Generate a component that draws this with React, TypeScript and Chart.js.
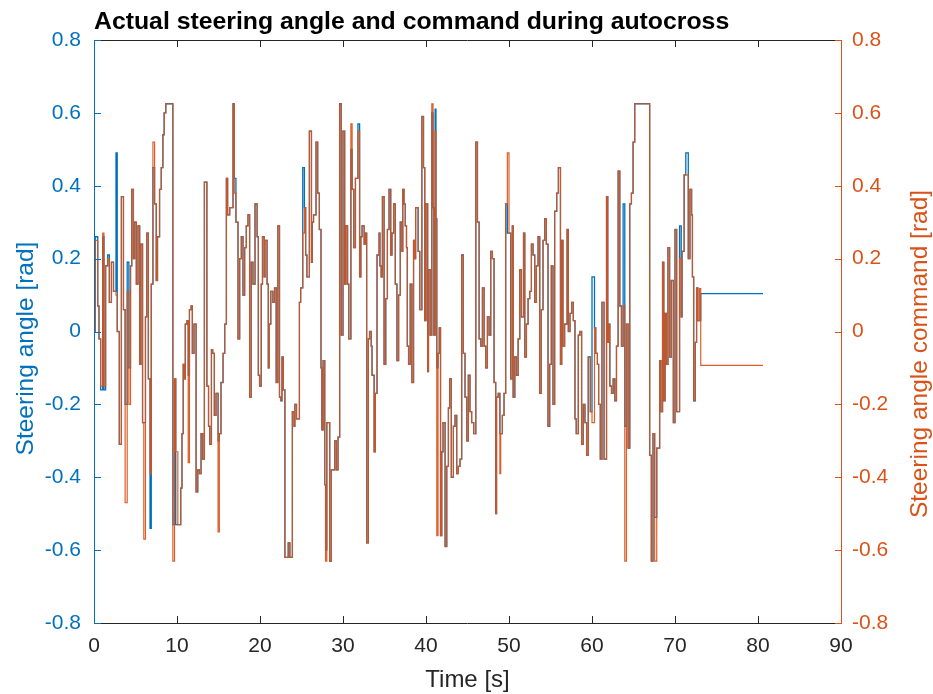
import React, { useEffect, useRef } from "react";
import { Chart, registerables } from "chart.js";

Chart.register(...registerables);

const BLUE = "#0072BD";
const ORANGE = "#D95319";
const ORANGE_LINE = "rgba(217,83,25,0.93)";
const DARK = "#262626";
const FONT = '"Liberation Sans", Arial, Helvetica, sans-serif';

const titleText = "Actual steering angle and command during autocross";
const xTitle = "Time [s]";
const yLeftTitle = "Steering angle [rad]";
const yRightTitle = "Steering angle command [rad]";

const xTicks = [0, 10, 20, 30, 40, 50, 60, 70, 80, 90];
const yTicks = [-0.8, -0.6, -0.4, -0.2, 0, 0.2, 0.4, 0.6, 0.8];

// time of each step change [s]
const time = [
  0, 0.15, 0.45, 0.6, 0.8, 1.05, 1.2, 1.4, 1.65, 1.85,
  2.1, 2.35, 2.65, 2.8, 3.05, 3.3, 3.55, 3.75, 4.0, 4.2,
  4.4, 4.55, 4.75, 4.9, 5.1, 5.3, 5.5, 5.65, 5.85, 6.0,
  6.2, 6.35, 6.55, 6.75, 6.9, 7.1, 7.3, 7.5, 7.65, 7.9,
  8.1, 8.3, 8.45, 8.65, 9.5, 9.7, 9.85, 10.1, 10.45, 10.6,
  10.75, 10.9, 11.0, 11.2, 11.35, 11.5, 11.7, 11.85, 12.05, 12.3,
  12.5, 12.7, 12.9, 13.1, 13.3, 13.6, 13.8, 13.95, 14.15, 14.3,
  14.5, 14.7, 14.95, 15.1, 15.3, 15.55, 15.75, 15.95, 16.1, 16.35,
  16.75, 16.9, 17.1, 17.35, 17.55, 17.75, 17.95, 18.15, 18.35, 18.55,
  18.75, 18.95, 19.15, 19.4, 19.65, 19.8, 19.95, 20.15, 20.3, 20.5,
  20.6, 20.85, 21.0, 21.1, 21.3, 21.55, 21.75, 21.95, 22.15, 22.35,
  22.5, 22.65, 22.8, 23.0, 23.4, 23.6, 23.9, 24.1, 24.2, 24.4,
  24.75, 24.9, 25.15, 25.35, 25.5, 25.65, 25.95, 26.2, 26.3, 26.45,
  26.75, 26.95, 27.15, 27.35, 27.45, 27.6, 27.8, 27.9, 28.05, 28.4,
  28.6, 29.0, 29.2, 29.4, 29.6, 29.8, 30.0, 30.2, 30.35, 30.55,
  30.7, 30.95, 31.1, 31.3, 31.5, 31.8, 32.0, 32.15, 32.3, 32.55,
  32.7, 32.85, 33.05, 33.2, 33.4, 33.5, 33.75, 33.9, 34.1, 34.35,
  34.45, 34.6, 34.75, 34.95, 35.15, 35.35, 35.55, 35.75, 35.9, 36.1,
  36.3, 36.5, 36.7, 36.9, 37.1, 37.2, 37.35, 37.5, 37.65, 37.75,
  37.9, 38.1, 38.3, 38.5, 38.6, 38.75, 39.05, 39.25, 39.5, 39.7,
  39.85, 40.0, 40.2, 40.3, 40.5, 40.7, 40.85, 40.95, 41.1, 41.2,
  41.3, 41.45, 41.6, 41.75, 41.9, 42.05, 42.3, 42.5, 42.7, 42.85,
  43.05, 43.3, 43.5, 43.7, 43.9, 44.1, 44.3, 44.5, 44.7, 44.9,
  45.1, 45.3, 45.5, 45.75, 46.0, 46.2, 46.4, 46.6, 46.8, 47.0,
  47.2, 47.4, 47.6, 47.8, 48.0, 48.2, 48.4, 48.5, 48.7, 48.9,
  49.0, 49.2, 49.4, 49.6, 49.8, 50.0, 50.2, 50.4, 50.5, 50.7,
  50.9, 51.1, 51.3, 51.5, 51.75, 51.9, 52.1, 52.3, 52.5, 52.7,
  52.9, 53.1, 53.3, 53.5, 53.7, 53.9, 54.1, 54.3, 54.5, 54.7,
  54.9, 55.1, 55.3, 55.5, 55.75, 55.95, 56.2, 56.35, 56.5, 56.7,
  57.0, 57.15, 57.35, 57.55, 57.75, 57.95, 58.1, 58.35, 58.55, 58.75,
  58.95, 59.15, 59.35, 59.55, 59.8, 60.0, 60.3, 60.45, 60.65, 60.8,
  61.0, 61.2, 61.45, 61.75, 61.9, 62.0, 62.15, 62.35, 62.55, 62.75,
  62.95, 63.15, 63.35, 63.55, 63.75, 63.95, 64.15, 64.35, 64.55, 64.75,
  64.95, 65.15, 66.95, 67.15, 67.35, 67.55, 67.8, 68.15, 68.3, 68.5,
  68.65, 68.8, 68.95, 69.15, 69.35, 69.55, 69.8, 70.0, 70.2, 70.55,
  70.75, 70.85, 71.1, 71.3, 71.6, 71.8, 72.0, 72.1, 72.25, 72.45,
  72.6, 72.75, 72.95, 73.1, 80.6,
];

// steering angle command [rad]
const commandRad = [
  0, 0.25, 0.07, -0.02, -0.15, 0.27, -0.15, 0.18, 0.2, 0.08,
  0.19, 0.11, 0.1, 0, -0.31, 0.37, 0.06, -0.47, 0.11, -0.2,
  0.18, 0.39, 0.2, 0.3, 0.13, 0.29, -0.09, 0.24, -0.25, -0.57,
  0.04, 0.27, -0.13, -0.39, 0.13, 0.52, 0.35, 0.14, 0.26, 0.39,
  0.45, 0.54, 0.6, 0.625, -0.63, -0.13, -0.33, -0.53, -0.43, -0.28,
  -0.09, -0.13, 0.02, 0.03, -0.36, 0.06, 0.07, -0.06, 0.02, -0.44,
  -0.38, -0.39, -0.28, -0.35, 0.41, -0.15, -0.26, -0.31, -0.05, -0.06,
  -0.23, -0.17, -0.55, -0.28, -0.14, -0.06, 0.02, 0.42, 0.32, 0.34,
  0.625, 0.38, 0.3, -0.02, 0.2, 0.26, 0.1, 0.23, 0.29, 0.32,
  -0.18, 0.19, 0.13, 0.35, 0.26, -0.12, -0.15, 0.13, 0.26, 0.15,
  0.25, 0.13, -0.1, 0.02, 0.11, 0.08, 0.12, -0.14, 0.29, -0.18,
  -0.19, -0.07, -0.16, -0.62, -0.58, -0.62, -0.22, -0.26, -0.2, -0.24,
  0.08, 0.12, 0.27, 0.34, 0.21, 0.15, 0.55, 0.19, 0.3, 0.32,
  0.52, 0.38, 0.28, -0.1, -0.27, -0.08, -0.42, -0.63, -0.25, -0.63,
  -0.38, -0.3, -0.38, -0.29, 0.625, -0.01, 0.55, 0.13, 0.29, 0.13,
  -0.02, 0.57, 0.39, 0.23, 0.42, 0.55, 0.15, 0.26, 0.29, 0.24,
  0.27, -0.58, -0.02, 0, -0.04, -0.12, -0.33, -0.17, 0.21, 0.27,
  0.18, 0.15, 0.37, -0.09, 0.09, 0.28, 0.39, 0.21, 0.27, 0.35,
  0.13, -0.08, 0.1, 0.3, 0.22, 0.39, 0.35, 0.29, 0.23, -0.04,
  -0.09, 0.13, -0.14, 0.25, 0.2, 0.34, 0.22, 0.06, 0.59, 0.45,
  0.03, 0.35, -0.11, 0.17, -0.01, 0.625, 0.34, -0.01, 0.55, 0.31,
  -0.56, -0.06, 0.01, -0.56, -0.33, -0.25, -0.59, -0.37, -0.21, -0.13,
  -0.4, -0.26, -0.23, -0.39, -0.37, -0.35, 0.21, -0.06, -0.18, -0.3,
  -0.12, -0.22, -0.25, -0.28, 0.52, 0.3, -0.02, -0.04, 0.12, -0.04,
  -0.1, 0.04, -0.01, 0.22, 0.2, -0.14, -0.5, -0.18, -0.17, -0.39,
  -0.28, -0.23, -0.17, 0.35, 0.49, 0.27, -0.13, 0.29, -0.18, -0.07,
  -0.12, -0.02, 0.17, 0.04, 0.27, -0.07, 0.02, 0.09, 0.11, 0.24,
  0.21, 0.08, 0.18, 0.26, -0.17, 0.06, 0.25, 0.31, 0.24, -0.26,
  -0.09, 0.18, -0.2, 0.33, 0.38, 0.45, -0.09, 0.25, -0.04, 0.02,
  0.28, 0, 0.05, 0.08, 0.03, -0.24, -0.28, -0.01, 0, -0.31,
  -0.2, -0.25, -0.34, -0.07, -0.22, -0.25, 0.01, -0.06, -0.09, -0.2,
  -0.35, 0.08, -0.35, 0.37, -0.03, 0.02, -0.15, -0.17, -0.13, -0.19,
  -0.04, 0.44, 0.07, -0.04, 0.07, -0.63, 0.02, -0.32, 0.35, 0.38,
  0.52, 0.625, -0.34, -0.63, -0.28, -0.63, -0.32, -0.08, -0.22, 0.19,
  -0.19, 0.05, -0.09, 0.23, -0.07, 0.14, -0.25, 0.28, -0.22, 0.2,
  0.04, 0.22, 0.43, 0.43, 0.2, 0.39, 0.32, 0.15, -0.19, -0.03,
  0.12, 0.03, 0.118, -0.093, -0.093,
];

// actual steering angle [rad]
const actualRad = [
  0, 0.26, 0.07, -0.02, -0.16, 0.26, -0.16, 0.18, 0.21, 0.08,
  0.19, 0.11, 0.49, 0, -0.31, 0.37, 0.06, -0.2, 0.19, -0.1,
  0.18, 0.39, 0.2, 0.3, 0.13, 0.29, -0.09, 0.24, -0.25, -0.25,
  0.04, 0.27, -0.13, -0.54, 0.13, 0.45, 0.35, 0.14, 0.26, 0.39,
  0.45, 0.54, 0.6, 0.625, -0.53, -0.13, -0.53, -0.53, -0.43, -0.28,
  -0.09, -0.13, 0.02, 0.03, -0.12, 0.06, 0.07, -0.06, 0.02, -0.44,
  -0.38, -0.39, -0.28, -0.35, 0.41, -0.15, -0.26, -0.31, -0.05, -0.06,
  -0.23, -0.17, -0.3, -0.28, -0.14, -0.06, 0.02, 0.42, 0.32, 0.34,
  0.625, 0.42, 0.3, -0.02, 0.2, 0.26, 0.1, 0.23, 0.29, 0.32,
  -0.18, 0.19, 0.13, 0.35, 0.26, -0.12, -0.15, 0.13, 0.26, 0.15,
  0.25, 0.13, -0.1, 0.02, 0.11, 0.08, 0.12, -0.14, 0.29, -0.18,
  -0.19, -0.07, -0.16, -0.62, -0.58, -0.62, -0.22, -0.26, -0.2, -0.24,
  0.08, 0.12, 0.45, 0.34, 0.21, 0.15, 0.55, 0.19, 0.3, 0.32,
  0.52, 0.38, 0.28, -0.1, -0.27, -0.08, -0.42, -0.6, -0.25, -0.63,
  -0.38, -0.3, -0.38, -0.29, 0.625, -0.01, 0.55, 0.13, 0.29, 0.13,
  -0.02, 0.5, 0.39, 0.23, 0.42, 0.57, 0.15, 0.26, 0.29, 0.24,
  0.27, -0.58, -0.02, 0, -0.04, -0.12, -0.33, -0.17, 0.21, 0.27,
  0.18, 0.15, 0.37, -0.09, 0.09, 0.28, 0.39, 0.21, 0.27, 0.35,
  0.13, -0.08, 0.1, 0.3, 0.22, 0.39, 0.35, 0.29, 0.23, -0.04,
  -0.09, 0.13, -0.14, 0.25, 0.2, 0.34, 0.22, 0.06, 0.59, 0.45,
  0.03, 0.35, -0.11, 0.17, -0.01, 0.6, 0.34, -0.01, 0.61, 0.31,
  -0.1, -0.06, 0.01, -0.56, -0.33, -0.25, -0.59, -0.37, -0.21, -0.13,
  -0.4, -0.26, -0.23, -0.39, -0.37, -0.35, 0.21, -0.06, -0.18, -0.3,
  -0.12, -0.22, -0.25, -0.28, 0.52, 0.3, -0.02, -0.04, 0.12, -0.04,
  -0.1, 0.04, -0.01, 0.22, 0.2, -0.14, -0.5, -0.18, -0.17, -0.28,
  -0.28, -0.23, -0.17, 0.35, 0.27, 0.27, -0.13, 0.29, -0.18, -0.07,
  -0.12, -0.02, 0.17, 0.04, 0.27, -0.07, 0.02, 0.09, 0.11, 0.24,
  0.21, 0.08, 0.18, 0.26, -0.17, 0.06, 0.25, 0.31, 0.24, -0.26,
  -0.09, 0.18, -0.2, 0.33, 0.38, 0.45, -0.09, 0.25, -0.04, 0.02,
  0.28, 0, 0.05, 0.08, 0.03, -0.24, -0.28, -0.01, 0, -0.31,
  -0.2, -0.25, -0.34, -0.07, -0.22, 0.15, 0.01, -0.06, -0.09, -0.2,
  -0.35, 0.08, -0.35, 0.37, -0.03, 0.02, -0.15, -0.17, -0.13, -0.19,
  -0.04, 0.44, 0.07, -0.04, 0.35, -0.26, 0.02, -0.32, 0.35, 0.38,
  0.52, 0.625, -0.34, -0.63, -0.28, -0.51, -0.32, -0.08, -0.22, 0.19,
  -0.19, 0.05, -0.09, 0.23, -0.07, 0.14, -0.25, 0.28, -0.22, 0.29,
  0.04, 0.22, 0.43, 0.49, 0.2, 0.39, 0.32, 0.15, -0.19, -0.03,
  0.12, 0.03, 0.03, 0.104, 0.104,
];

const framePlugin = {
  id: "matlabFrame",
  afterDatasetsDraw(chart: any) {
    const { ctx, chartArea } = chart;
    const { left, right, top, bottom } = chartArea;
    const xs = chart.scales.x;
    const ys = chart.scales.y;
    const tick = 7;
    ctx.save();
    ctx.lineWidth = 1;
    ctx.strokeStyle = DARK;
    ctx.beginPath();
    ctx.moveTo(left, bottom + 0.5);
    ctx.lineTo(right, bottom + 0.5);
    ctx.moveTo(left, top + 0.5);
    ctx.lineTo(right, top + 0.5);
    xTicks.forEach((v) => {
      const px = Math.round(xs.getPixelForValue(v)) + 0.5;
      ctx.moveTo(px, bottom);
      ctx.lineTo(px, bottom - tick);
      ctx.moveTo(px, top);
      ctx.lineTo(px, top + tick);
    });
    ctx.stroke();
    ctx.strokeStyle = BLUE;
    ctx.beginPath();
    ctx.moveTo(left + 0.5, top);
    ctx.lineTo(left + 0.5, bottom + 1);
    yTicks.forEach((v) => {
      const py = Math.round(ys.getPixelForValue(v)) + 0.5;
      ctx.moveTo(left, py);
      ctx.lineTo(left + tick, py);
    });
    ctx.stroke();
    ctx.strokeStyle = ORANGE;
    ctx.beginPath();
    ctx.moveTo(right + 0.5, top);
    ctx.lineTo(right + 0.5, bottom + 1);
    yTicks.forEach((v) => {
      const py = Math.round(ys.getPixelForValue(v)) + 0.5;
      ctx.moveTo(right + 1, py);
      ctx.lineTo(right + 1 - tick, py);
    });
    ctx.stroke();
    ctx.restore();
  },
  afterDraw(chart: any) {
    const { ctx, chartArea } = chart;
    const { left, right } = chartArea;
    ctx.save();
    ctx.textBaseline = "alphabetic";
    ctx.fillStyle = "#000000";
    ctx.font = `bold 24.8px ${FONT}`;
    ctx.textAlign = "left";
    ctx.fillText(titleText, left, 29);

    ctx.fillStyle = DARK;
    ctx.font = `24px ${FONT}`;
    ctx.textAlign = "center";
    ctx.fillText(xTitle, (left + right) / 2, 687);

    ctx.font = `24.5px ${FONT}`;
    ctx.save();
    ctx.translate(33, 348.5);
    ctx.rotate(-Math.PI / 2);
    ctx.fillStyle = BLUE;
    ctx.textAlign = "center";
    ctx.fillText(yLeftTitle, 0, 0);
    ctx.restore();

    ctx.save();
    ctx.translate(926.5, 354);
    ctx.rotate(-Math.PI / 2);
    ctx.fillStyle = ORANGE;
    ctx.textAlign = "center";
    ctx.fillText(yRightTitle, 0, 0);
    ctx.restore();
    ctx.restore();
  },
};

const fmt = (v: number) => String(Math.round(v * 10) / 10);

export default function App() {
  const canvasRef = useRef<HTMLCanvasElement | null>(null);

  useEffect(() => {
    const canvas = canvasRef.current;
    if (!canvas) return;
    const actualData = time.map((t, i) => ({ x: t, y: actualRad[i] }));
    const commandData = time.map((t, i) => ({ x: t, y: commandRad[i] }));

    const chart = new Chart(canvas, {
      type: "line",
      data: {
        datasets: [
          {
            label: "Steering angle",
            data: actualData,
            yAxisID: "y",
            borderColor: BLUE,
            borderWidth: 1.3,
            stepped: true,
            pointRadius: 0,
            fill: false,
            order: 1,
          },
          {
            label: "Steering angle command",
            data: commandData,
            yAxisID: "y2",
            borderColor: ORANGE_LINE,
            borderWidth: 1.2,
            stepped: true,
            pointRadius: 0,
            fill: false,
            order: 0,
          },
        ],
      },
      options: {
        responsive: false,
        animation: false,
        devicePixelRatio: 1,
        layout: { padding: { top: 40, left: 0, right: 0, bottom: 0 } },
        plugins: {
          legend: { display: false },
          tooltip: { enabled: false },
          title: { display: false },
        },
        scales: {
          x: {
            type: "linear",
            position: "bottom",
            min: 0,
            max: 90,
            afterBuildTicks: (s: any) => {
              s.ticks = xTicks.map((v) => ({ value: v }));
            },
            afterFit: (s: any) => {
              s.height = 71;
            },
            ticks: {
              color: DARK,
              font: { family: FONT, size: 21 },
              padding: 11,
              maxRotation: 0,
              autoSkip: false,
              callback: (v: any) => String(v),
            },
            grid: { display: false, drawTicks: false },
            border: { display: false },
          },
          y: {
            type: "linear",
            position: "left",
            min: -0.8,
            max: 0.8,
            afterBuildTicks: (s: any) => {
              s.ticks = yTicks.map((v) => ({ value: v }));
            },
            afterFit: (s: any) => {
              s.width = 94;
            },
            ticks: {
              color: BLUE,
              font: { family: FONT, size: 21 },
              padding: 13,
              autoSkip: false,
              callback: (v: any) => fmt(Number(v)),
            },
            grid: { display: false, drawTicks: false },
            border: { display: false },
          },
          y2: {
            type: "linear",
            position: "right",
            min: -0.8,
            max: 0.8,
            afterBuildTicks: (s: any) => {
              s.ticks = yTicks.map((v) => ({ value: v }));
            },
            afterFit: (s: any) => {
              s.width = 92;
            },
            ticks: {
              color: ORANGE,
              font: { family: FONT, size: 21 },
              padding: 11,
              autoSkip: false,
              callback: (v: any) => fmt(Number(v)),
            },
            grid: { display: false, drawTicks: false },
            border: { display: false },
          },
        },
      },
      plugins: [framePlugin],
    } as any);

    return () => {
      chart.destroy();
    };
  }, []);

  return (
    <div
      style={{
        position: "absolute",
        left: 0,
        top: 0,
        width: 933,
        height: 694,
        background: "#ffffff",
      }}
    >
      <canvas ref={canvasRef} width={933} height={694} style={{ width: 933, height: 694, display: "block" }} />
    </div>
  );
}
